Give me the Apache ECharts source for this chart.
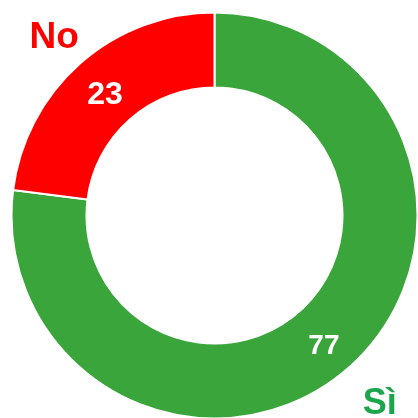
<!DOCTYPE html>
<html>
<head>
<meta charset="utf-8">
<script src="https://cdn.jsdelivr.net/npm/echarts@6/dist/echarts.min.js"></script>
<style>
html, body { margin: 0; padding: 0; background: #fff; }
#chart { width: 418px; height: 418px; }
</style>
</head>
<body>
<div id="chart"></div>
<script>
var categories = ['Sì', 'No'];
var values = [77, 23];
var sliceColors = ['#39a53a', '#ff0000'];
var nameColors = ['#1ba64c', '#ff0000'];

// piccoli aggiustamenti delle etichette
var valueLabelStyle = [
    { fontSize: 28, offset: [-2, 4] },
    { fontSize: 32, offset: [2, 6] }
];
var nameLabelStyle = [
    { fontSize: 36, offset: [0, 1] },
    { fontSize: 37, offset: [5, 10] }
];

var chart = echarts.init(document.getElementById('chart'));

var ringData = categories.map(function (c, i) {
    return { name: c, value: values[i], itemStyle: { color: sliceColors[i] }, label: valueLabelStyle[i] };
});
var nameData = categories.map(function (c, i) {
    return {
        name: c, value: values[i],
        label: { color: nameColors[i], fontSize: nameLabelStyle[i].fontSize, offset: nameLabelStyle[i].offset }
    };
});

chart.setOption({
    animation: false,
    series: [
        {
            type: 'pie',
            center: [214.5, 215.5],
            radius: [128, 203],
            startAngle: 90,
            clockwise: true,
            silent: true,
            itemStyle: { borderColor: '#fff', borderWidth: 2 },
            label: {
                position: 'inside',
                formatter: '{c}',
                color: '#fff',
                fontFamily: 'Liberation Sans, Arial, sans-serif',
                fontWeight: 'bold',
                fontSize: 30
            },
            labelLine: { show: false },
            data: ringData
        },
        {
            // nomi fuori dall'anello
            type: 'pie',
            center: [214.5, 215.5],
            radius: [238, 256],
            startAngle: 90,
            clockwise: true,
            silent: true,
            itemStyle: { color: 'transparent' },
            label: {
                position: 'inside',
                formatter: '{b}',
                fontFamily: 'Liberation Sans, Arial, sans-serif',
                fontWeight: 'bold',
                fontSize: 36
            },
            labelLine: { show: false },
            data: nameData
        }
    ]
});
</script>
</body>
</html>
